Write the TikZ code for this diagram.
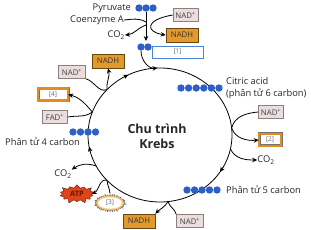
\documentclass[tikz,border=0pt]{standalone}
\usepackage{fontspec}
\setmainfont{Open Sans}
\usetikzlibrary{shapes.geometric,shapes.symbols,arrows.meta}
\definecolor{dotblue}{HTML}{2E5FC6}
\definecolor{nadfill}{HTML}{EBDDDD}
\definecolor{nadline}{HTML}{8C7F7F}
\definecolor{nadhfill}{HTML}{E39A2D}
\definecolor{nadhline}{HTML}{6B4512}
\definecolor{boxorange}{HTML}{E8891C}
\definecolor{ringorange}{HTML}{F2C070}
\definecolor{boxblue}{HTML}{4A86D8}
\definecolor{atpred}{HTML}{E0441A}
\definecolor{atpdark}{HTML}{5A1A00}
\begin{document}
\begin{tikzpicture}[x=1pt,y=-1pt,
  font=\fontsize{9.3}{10}\selectfont,
  lbl/.style={inner sep=0pt, text=black!85},
  dot/.style={circle, fill=dotblue, minimum size=7.4pt, inner sep=0pt},
  nadbox/.style={draw=nadline, fill=nadfill, line width=0.6pt, minimum width=25pt, minimum height=13pt, inner sep=0pt, font=\fontsize{7.8}{8}\selectfont, text=black!75},
  nadhbox/.style={draw=nadhline, fill=nadhfill, line width=0.6pt, minimum width=32pt, minimum height=14pt, inner sep=0pt, font=\fontsize{7.8}{8}\selectfont, text=black!80},
  obox/.style={draw=black!55, double=boxorange, double distance=2.2pt, line width=0.4pt, fill=white, minimum width=30pt, minimum height=12pt, inner sep=0pt, font=\fontsize{6.5}{7}\selectfont, text=black!60},
  ln/.style={line width=0.8pt},
  arr/.style={ln, -{Stealth[length=5pt,width=4.5pt]}}
]
\useasboundingbox (0,0) rectangle (311,230);
\fill[white] (0,0) rectangle (311,230);

% cycle
\coordinate (O) at (160,135);
\draw[ln] (O) ellipse[x radius=72, y radius=67];
\draw[arr] ([shift={(29:72 and 67)}]O) -- ([shift={(33.5:72 and 67)}]O);
\draw[arr] ([shift={(166:72 and 67)}]O) -- ([shift={(170:72 and 67)}]O);
\draw[arr] ([shift={(240:72 and 67)}]O) -- ([shift={(244:72 and 67)}]O);
\node[lbl, font=\bfseries\fontsize{12.5}{14}\selectfont, align=center] (title) at (157,136) {Chu trình\\[1pt]Krebs};

\coordinate (cTop) at ([shift={(-92:72 and 67)}]O);
\coordinate (cN1) at ([shift={(222.6:72 and 67)}]O);
\coordinate (cF) at ([shift={(200:72 and 67)}]O);
\coordinate (cR1) at ([shift={(-6:72 and 67)}]O);
\coordinate (cR2) at ([shift={(12:72 and 67)}]O);
\coordinate (cB) at ([shift={(83.6:72 and 67)}]O);
\coordinate (c3) at ([shift={(137.4:72 and 67)}]O);
\coordinate (cC) at ([shift={(152.4:72 and 67)}]O);

% top: pyruvate
\node[lbl, anchor=east] (pyr) at (131,8) {Pyruvate};
\node[dot] (p1) at (139,8) {};
\node[dot] (p2) at (146,8) {};
\node[dot] (p3) at (153,8) {};
\node[lbl, anchor=east] (coa) at (124,20) {Coenzyme A};
\node[lbl, anchor=east] (co2t) at (125,35) {CO\textsubscript{2}};
\coordinate (jA) at (146,22);
\coordinate (jB) at (146,25);
\coordinate (jEnd) at (146,41);
\draw[arr] (p2.south) -- (jEnd);
\draw[ln] (coa.east) to[out=5,in=150] (jA);
\draw[arr] (jB) to[out=200,in=5] (co2t.east);
\node[nadbox] (nad1) at (185.5,15) {NAD\textsuperscript{+}};
\node[nadhbox] (nadh1) at (182,35) {NADH};
\draw[arr] (nad1.west) .. controls (144,20) and (146,32) .. (nadh1.west);
\node[dot] (a1) at (141,47) {};
\node[dot] (a2) at (148,47) {};
\node[draw=boxblue, line width=0.8pt, fill=white, minimum width=51pt, minimum height=12pt, inner sep=0pt, font=\fontsize{6.5}{7}\selectfont, text=black!60] (b1) at (177.5,52) {[1]};
\draw[arr] (a1.south) to[out=-90,in=185] (cTop);

% citric acid
\foreach \i in {0,...,5} {\node[dot] (ci\i) at (181+7.6*\i,88) {};}
\node[lbl, anchor=west, align=left, font=\fontsize{9.3}{12}\selectfont] (cit) at (226,88) {Citric acid\\(phân tử 6 carbon)};

% right side
\node[nadbox] (nad2) at (271,112) {NAD\textsuperscript{+}};
\node[obox, minimum width=22pt] (b2) at (270,140) {[2]};
\node[lbl] (co2r) at (266,160) {CO\textsubscript{2}};
\draw[ln] (nad2.west) to[out=185,in=75] (cR1);
\draw[arr] (cR1) to[out=-70,in=185] (b2.west);
\draw[arr] (cR2) to[out=-65,in=180] (co2r.west);

% five carbon
\foreach \i in {0,...,4} {\node[dot] (fi\i) at (187+7.5*\i,190) {};}
\node[lbl, anchor=west] (five) at (226,190) {Phân tử 5 carbon};

% bottom
\node[nadbox, minimum width=27pt] (nad3) at (190,221) {NAD\textsuperscript{+}};
\node[nadhbox] (nadh2) at (139,221) {NADH};
\draw[ln] (nad3.north west) to[out=105,in=-75] (cB);
\draw[arr] (cB) to[out=-120,in=45] (nadh2.north east);

% [3] and ATP
\node[starburst, starburst points=40, starburst point height=3pt, fill=black!60, draw=none, minimum width=34pt, minimum height=20pt, inner sep=0pt] (s3bg) at (110,203) {};
\node[ellipse, fill=ringorange, minimum width=28pt, minimum height=15pt, inner sep=0pt] (s3ring) at (110,203) {};
\node[ellipse, fill=white, minimum width=24pt, minimum height=11.5pt, inner sep=0pt, font=\fontsize{6.5}{7}\selectfont, text=black!60] (s3) at (110,203) {[3]};
\node[starburst, starburst points=14, starburst point height=4.5pt, fill=atpred, draw=atpdark, line width=0.4pt, minimum width=38pt, minimum height=21pt, inner sep=0pt, font=\bfseries\fontsize{7.5}{8}\selectfont, text=atpdark] (atp) at (77,194) {ATP};
\node[lbl] (co2l) at (63,174) {CO\textsubscript{2}};
\draw[ln] (s3bg.north) to[out=95,in=-85] (c3);
\draw[arr] (c3) to[out=165,in=25] (atp.east);
\draw[arr] (cC) to[out=160,in=35] (co2l.north east);

% left side
\foreach \i in {0,...,3} {\node[dot] (di\i) at (73+7.5*\i,132) {};}
\node[lbl, anchor=west] (four) at (5,142) {Phân tử 4 carbon};
\node[nadbox] (fad) at (55,117) {FAD\textsuperscript{+}};
\node[obox, minimum width=30pt, minimum height=12pt] (b4) at (53,94.5) {[4]};
\draw[ln] (fad.east) to[out=10,in=215] (cF);
\draw[arr] (cF) to[out=130,in=-15] (b4.east);
\node[nadbox, minimum width=27pt] (nad4) at (72,72) {NAD\textsuperscript{+}};
\node[nadhbox] (nadh3) at (108,61) {NADH};
\draw[ln] (nad4.south east) to[out=-15,in=200] (cN1);
\draw[arr] (cN1) to[out=95,in=-75] (nadh3.south);
\end{tikzpicture}
\end{document}
